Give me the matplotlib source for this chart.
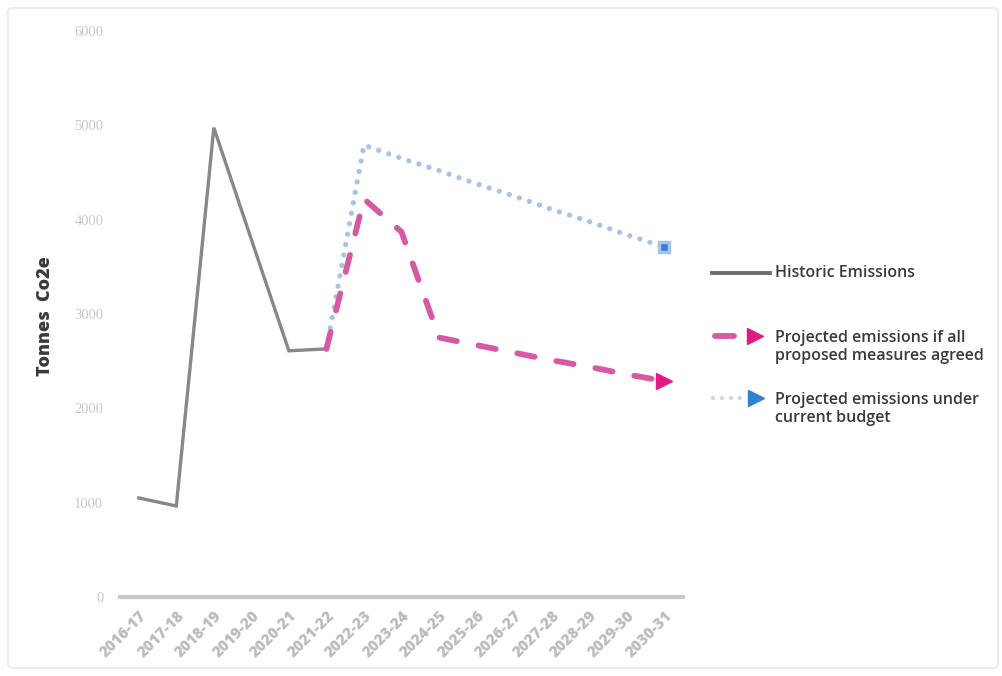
import matplotlib
matplotlib.use("Agg")
import matplotlib.pyplot as plt
from matplotlib.lines import Line2D
from matplotlib.patches import FancyBboxPatch

years = ["2016-17", "2017-18", "2018-19", "2019-20", "2020-21", "2021-22",
         "2022-23", "2023-24", "2024-25", "2025-26", "2026-27", "2027-28",
         "2028-29", "2029-30", "2030-31"]

historic = [1050, 965, 4975, 3790, 2610, 2630]
measures_agreed = [2630, 4220, 3870, 2750, 2670, 2590, 2510, 2440, 2360, 2290]
current_budget = [2630, 4790, 4650, 4520, 4380, 4250, 4110, 3980, 3840, 3710]

yticks = [0, 1000, 2000, 3000, 4000, 5000, 6000]

legend_labels = [
    "Historic Emissions",
    "Projected emissions if all\nproposed measures agreed",
    "Projected emissions under\ncurrent budget",
]

hist_x = list(range(len(historic)))
proj_x = list(range(len(historic) - 1, len(years)))

GREY = "#888888"
PINK = "#d65aa3"
PINK_DARK = "#e01b83"
BLUE = "#a8c3e8"
BLUE_DARK = "#2f82d3"
TEXT = "#3a3a3a"

PINK_DASH = (0, (3.0, 3.8))
BLUE_DOT = (0, (0.01, 2.0))

plt.rcParams["font.family"] = ["Open Sans", "DejaVu Sans"]

W, H = 1002, 676
fig = plt.figure(figsize=(W / 100, H / 100), dpi=100)
ax = fig.add_axes([120 / W, 1 - 597 / H, 563 / W, 566 / H])

# faint frame around the whole chart
frame = FancyBboxPatch((8 / W, 8 / H), 990 / W, 660 / H,
                       boxstyle="round,pad=0,rounding_size=0.006",
                       transform=fig.transFigure, fill=False,
                       edgecolor="#ececec", linewidth=1.5)
fig.patches.append(frame)

ax.plot(hist_x, historic, color=GREY, linewidth=2.4, solid_joinstyle="miter",
        zorder=3)
ax.plot(proj_x, current_budget, color=BLUE, linewidth=3.8,
        linestyle=BLUE_DOT, dash_capstyle="round", zorder=2)
ax.plot(proj_x[-1:], current_budget[-1:], linestyle="none", marker="s",
        markersize=7, markerfacecolor=BLUE_DARK, markeredgecolor=BLUE,
        markeredgewidth=2.5, zorder=4)
ax.plot(proj_x, measures_agreed, color=PINK, linewidth=4.2,
        linestyle=PINK_DASH, dash_capstyle="round", zorder=3)
ax.plot(proj_x[-1:], measures_agreed[-1:], linestyle="none", marker=">",
        markersize=11, color=PINK_DARK, zorder=4)

ax.set_xlim(-0.5, len(years) - 0.5)
ax.set_ylim(0, 6000)
ax.set_xticks(range(len(years)))
ax.set_xticklabels(years, rotation=45, ha="right", rotation_mode="anchor",
                   fontsize=11, fontweight="heavy", color="#bcbcbc")
ax.set_yticks(yticks)
ax.set_yticklabels([str(v) for v in yticks], fontsize=10.5,
                   color="#c8c8c8", family="Liberation Serif")
ax.tick_params(axis="both", length=0)
ax.tick_params(axis="y", pad=12)
ax.tick_params(axis="x", pad=8)

for side in ("top", "right", "left"):
    ax.spines[side].set_visible(False)
ax.spines["bottom"].set_color("#c9c9c9")
ax.spines["bottom"].set_linewidth(3)

fig.text(46 / W, 1 - 316 / H, "Tonnes  Co2e", rotation=90, ha="center",
         va="center", fontsize=13, fontweight="heavy", color=TEXT)

# legend drawn in pixel positions on the figure
def fx(px):
    return px / W


def fy(py):
    return 1 - py / H


fig.add_artist(Line2D([fx(712), fx(770)], [fy(273), fy(273)],
                      color="#6e6e6e", linewidth=2.8,
                      transform=fig.transFigure))
fig.add_artist(Line2D([fx(715), fx(734)], [fy(336), fy(336)],
                      color=PINK, linewidth=4.2, solid_capstyle="round",
                      transform=fig.transFigure))
fig.add_artist(Line2D([fx(755)], [fy(336)], marker=">", markersize=12,
                      color=PINK_DARK, linestyle="none",
                      transform=fig.transFigure))
fig.add_artist(Line2D([fx(713), fx(742)], [fy(398), fy(398)],
                      color="#cfd8e6", linewidth=3.2, linestyle=BLUE_DOT,
                      dash_capstyle="round", transform=fig.transFigure))
fig.add_artist(Line2D([fx(756)], [fy(398)], marker=">", markersize=11,
                      color=BLUE_DARK, linestyle="none",
                      transform=fig.transFigure))

label_y = [273, 347, 409]
for text, py in zip(legend_labels, label_y):
    fig.text(fx(775), fy(py), text, ha="left", va="center", fontsize=11.5,
             fontweight="semibold", color=TEXT, linespacing=1.2)

fig.savefig("out.png", dpi=100, facecolor="white")
